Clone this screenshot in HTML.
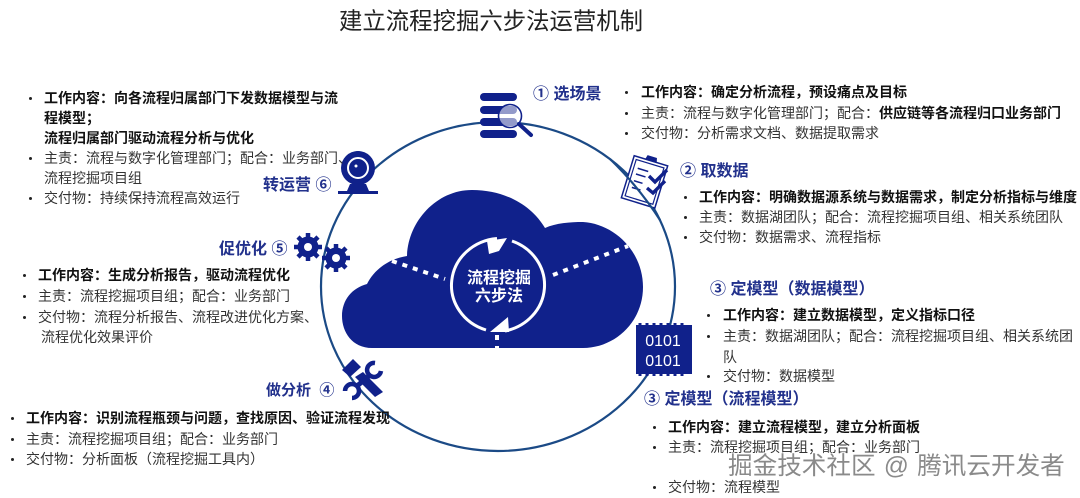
<!DOCTYPE html>
<html><head><meta charset="utf-8">
<style>
html,body{margin:0;padding:0;background:#fff}
#p{position:relative;width:1080px;height:498px;overflow:hidden;background:#fff;font-family:"Liberation Sans","Noto Sans CJK SC",sans-serif}
svg{position:absolute;left:0;top:0}
.t{position:absolute;white-space:nowrap;font-size:14px;line-height:20px;height:20px;color:#333}
.b{font-weight:700;color:#111}
.h{position:absolute;white-space:nowrap;font-size:16px;line-height:22px;font-weight:700;color:#22318c}
.d{position:absolute;width:3px;height:3px;border-radius:50%;background:#222}
</style></head><body><div id="p">
<svg width="1080" height="498" viewBox="0 0 1080 498">
<ellipse cx="498" cy="286.5" rx="177" ry="164.5" fill="none" stroke="#1b4a86" stroke-width="2.2"/>
<path d="M372 348 C352 348 342 332 342 316 C342 300 352 288 367 284 C374 270 388 259 407 256 C408 222 436 190 472 190 C506 190 532 206 545 228 C556 223 570 222 583 222 C615 224 643 252 643 287 C643 322 615 348 583 348 Z" fill="#10218b"/>
<g fill="none" stroke="#fff" stroke-width="3">
<path d="M497 238.5 A50 47 0 0 0 486 330"/>
<path d="M512 241 A50 47 0 0 1 505 331"/>
</g>
<path d="M507 238 L487 241 L489 254 L499 251 Z M490 332 L508 317 L509 332 Z" fill="#fff"/>
<g stroke="#fff" stroke-width="4" stroke-dasharray="5 6" fill="none">
<path d="M392 261 L445 279"/><path d="M553 275 L628 246"/><path d="M497 335 L497 349"/>
</g>
<g fill="#10218b">
<rect x="480" y="93" width="37" height="8" rx="4"/><rect x="480" y="106" width="37" height="8" rx="4"/><rect x="480" y="118" width="37" height="8" rx="4"/><rect x="480" y="130" width="37" height="8" rx="4"/>
</g>
<circle cx="510" cy="116" r="11.5" fill="#fff" fill-opacity=".55" stroke="#10218b" stroke-width="1.6"/>
<path d="M519 124 L531 135" stroke="#10218b" stroke-width="4" stroke-linecap="round"/>
<g transform="rotate(17 645 182)" fill="#fff" stroke="#10218b">
<rect x="627" y="160" width="35" height="44" stroke-width="1.5"/>
<rect x="630" y="163" width="29" height="38" stroke-width="1.2"/>
<path d="M639 160 L640 156 L649 156 L650 160 Z" fill="#10218b"/>
<path d="M634 171 H645 M634 177 H644 M634 184 H643 M634 191 H643" stroke-width="1.5"/>
</g>
<path d="M610 159 Q638 186 660 220" stroke="#1b4a86" stroke-width="2.2" fill="none"/>
<path d="M649 176 L655 182 L667 170 M647 188 L653 193 L665 181" fill="none" stroke="#10218b" stroke-width="3.4"/>
<path d="M350 155 Q358 147 366 155 Z" fill="#10218b"/>
<circle cx="358" cy="168" r="17" fill="#10218b"/>
<circle cx="358" cy="168" r="10" fill="none" stroke="#fff" stroke-width="2"/>
<circle cx="358" cy="168" r="5.5" fill="#10218b"/>
<circle cx="356" cy="166" r="1.5" fill="#fff"/>
<path d="M350 184 L366 184 L369 191 L347 191 Z" fill="#10218b"/>
<rect x="338" y="191" width="40" height="3" fill="#10218b"/>
<g fill="#10218b">
<circle cx="308" cy="247" r="10.5"/>
<g stroke="#10218b" stroke-width="4.5"><path d="M308 233 V261 M294 247 H322 M298 237 L318 257 M318 237 L298 257"/></g>
<circle cx="308" cy="247" r="4" fill="#fff"/>
<circle cx="336" cy="258" r="10.5"/>
<g stroke="#10218b" stroke-width="4.5"><path d="M336 244 V272 M322 258 H350 M326 248 L346 268 M346 248 L326 268"/></g>
<circle cx="336" cy="258" r="4" fill="#fff"/>
</g>
<path d="M342 370 L353 359 L361 367 L350 377 Z M355 377 L363 372 L383 392 L375 397 Z" fill="#10218b"/>
<g fill="none" stroke="#10218b">
<path d="M375 363 A7 7 0 1 0 381 371" stroke-width="4.5"/>
<path d="M345 391 A7 7 0 1 1 352 398" stroke-width="4.5"/>
<path d="M369 376 L357 386" stroke-width="5"/>
</g>
<rect x="636" y="325" width="56" height="49" fill="#10218b"/>
<path d="M640 325 V323 M647 325 V323 M654 325 V323 M661 325 V323 M668 325 V323 M675 325 V323 M682 325 V323 M640 376 V374 M647 376 V374 M654 376 V374 M661 376 V374 M668 376 V374 M675 376 V374 M682 376 V374" stroke="#10218b" stroke-width="3"/>
<text x="663" y="346" text-anchor="middle" font-size="16" fill="#fff" font-family="Liberation Sans">0101</text>
<text x="663" y="366" text-anchor="middle" font-size="16" fill="#fff" font-family="Liberation Sans">0101</text>
<text x="499" y="283" text-anchor="middle" font-size="16" font-weight="700" fill="#fff" font-family="Liberation Sans,Noto Sans CJK SC,sans-serif">流程挖掘</text>
<text x="499" y="301" text-anchor="middle" font-size="16" font-weight="700" fill="#fff" font-family="Liberation Sans,Noto Sans CJK SC,sans-serif">六步法</text>
</svg>

<div style="position:absolute;left:339px;top:4px;font-size:23.4px;line-height:34px;color:#222;white-space:nowrap">建立流程挖掘六步法运营机制</div>

<div class="h" style="left:533px;top:84px">① 选场景</div>
<div class="h" style="left:680px;top:161px">② 取数据</div>
<div class="h" style="left:710px;top:279px">③ 定模型（数据模型）</div>
<div class="h" style="left:644px;top:389px">③ 定模型（流程模型）</div>
<div class="h" style="left:263px;top:175px">转运营 ⑥</div>
<div class="h" style="left:219px;top:239px">促优化 ⑤</div>
<div class="h" style="left:266px;top:380px;font-size:15px">做分析 &nbsp;④</div>

<div class="d" style="left:625px;top:91px"></div><div class="t b" style="left:641px;top:82px">工作内容：确定分析流程，预设痛点及目标</div>
<div class="d" style="left:625px;top:112px"></div><div class="t" style="left:641px;top:103px">主责：流程与数字化管理部门；配合：<span class="b">供应链等各流程归口业务部门</span></div>
<div class="d" style="left:625px;top:132px"></div><div class="t" style="left:641px;top:123px">交付物：分析需求文档、数据提取需求</div>

<div class="d" style="left:684px;top:196px"></div><div class="t b" style="left:699px;top:187px">工作内容：明确数据源系统与数据需求，制定分析指标与维度</div>
<div class="d" style="left:684px;top:216px"></div><div class="t" style="left:699px;top:207px">主责：数据湖团队；配合：流程挖掘项目组、相关系统团队</div>
<div class="d" style="left:684px;top:236px"></div><div class="t" style="left:699px;top:227px">交付物：数据需求、流程指标</div>

<div class="d" style="left:707px;top:314px"></div><div class="t b" style="left:723px;top:305px">工作内容：建立数据模型，定义指标口径</div>
<div class="d" style="left:707px;top:335px"></div><div class="t" style="left:723px;top:326px">主责：数据湖团队；配合：流程挖掘项目组、相关系统团</div>
<div class="t" style="left:723px;top:347px">队</div>
<div class="d" style="left:707px;top:375px"></div><div class="t" style="left:723px;top:366px">交付物：数据模型</div>

<div class="d" style="left:653px;top:426px"></div><div class="t b" style="left:668px;top:417px">工作内容：建立流程模型，建立分析面板</div>
<div class="d" style="left:653px;top:446px"></div><div class="t" style="left:668px;top:437px">主责：流程挖掘项目组；配合：业务部门</div>
<div class="d" style="left:653px;top:486px"></div><div class="t" style="left:668px;top:477px">交付物：流程模型</div>

<div class="d" style="left:29px;top:97px"></div><div class="t b" style="left:44px;top:88px">工作内容：向各流程归属部门下发数据模型与流</div>
<div class="t b" style="left:44px;top:108px">程模型；</div>
<div class="t b" style="left:44px;top:128px">流程归属部门驱动流程分析与优化</div>
<div class="d" style="left:29px;top:157px"></div><div class="t" style="left:44px;top:148px">主责：流程与数字化管理部门；配合：业务部门、</div>
<div class="t" style="left:44px;top:168px">流程挖掘项目组</div>
<div class="d" style="left:29px;top:197px"></div><div class="t" style="left:44px;top:188px">交付物：持续保持流程高效运行</div>

<div class="d" style="left:23px;top:274px"></div><div class="t b" style="left:38px;top:265px">工作内容：生成分析报告，驱动流程优化</div>
<div class="d" style="left:23px;top:295px"></div><div class="t" style="left:38px;top:286px">主责：流程挖掘项目组；配合：业务部门</div>
<div class="d" style="left:23px;top:316px"></div><div class="t" style="left:38px;top:307px">交付物：流程分析报告、流程改进优化方案、</div>
<div class="t" style="left:41px;top:327px">流程优化效果评价</div>

<div class="d" style="left:11px;top:417px"></div><div class="t b" style="left:26px;top:408px">工作内容：识别流程瓶颈与问题，查找原因、验证流程发现</div>
<div class="d" style="left:11px;top:438px"></div><div class="t" style="left:26px;top:429px">主责：流程挖掘项目组；配合：业务部门</div>
<div class="d" style="left:11px;top:458px"></div><div class="t" style="left:26px;top:449px">交付物：分析面板（流程挖掘工具内）</div>

<div style="position:absolute;left:728px;top:450px;font-size:24.6px;line-height:34px;color:#8a8a8a;white-space:nowrap;word-spacing:1.5px;text-shadow:1px 1px 0 #fff,-1px -1px 0 #fff,1px -1px 0 #fff,-1px 1px 0 #fff">掘金技术社区 @ 腾讯云开发者</div>
</div></body></html>
